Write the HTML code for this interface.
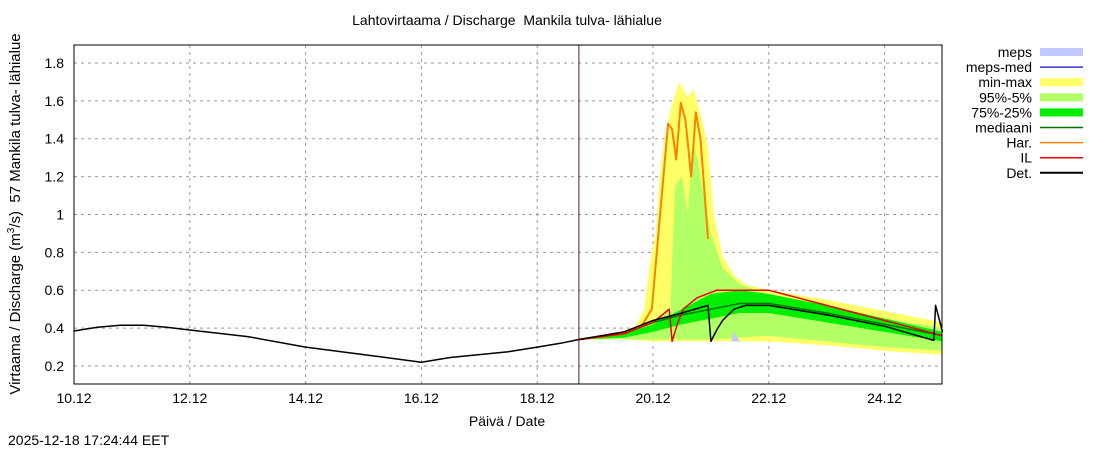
<!DOCTYPE html>
<html><head><meta charset="utf-8"><style>
body{margin:0;background:#fff;width:1100px;height:450px;overflow:hidden}
svg{font-family:"Liberation Sans",sans-serif;font-size:14px}
</style></head><body>
<svg id="c" width="1100" height="450"></svg>
<script>
const yTicks=[0.2,0.4,0.6,0.8,1,1.2,1.4,1.6,1.8];
const yTickLabels=["0.2","0.4","0.6","0.8","1","1.2","1.4","1.6","1.8"];
const xTicks=[0,2,4,6,8,10,12,14];
const xTickLabels=["10.12","12.12","14.12","16.12","18.12","20.12","22.12","24.12"];
const nowDay=8.72;
const detHist=[[0,0.385],[0.4,0.405],[0.8,0.415],[1.2,0.415],[1.6,0.405],[2,0.39],[3,0.355],[4,0.3],[5,0.26],[6,0.22],[6.5,0.245],[7,0.26],[7.5,0.275],[8,0.3],[8.4,0.32],[8.72,0.34]];
const minmaxUp=[[8.72,0.34],[9.4,0.37],[9.7,0.41],[9.85,0.5],[9.95,0.75],[10.05,0.9],[10.12,1.2],[10.2,1.4],[10.3,1.55],[10.45,1.7],[10.6,1.62],[10.7,1.66],[10.85,1.5],[10.95,1.35],[11.05,1.0],[11.2,0.78],[11.4,0.68],[11.6,0.63],[12,0.6],[13,0.55],[14,0.49],[15,0.43]];
const minmaxLo=[[8.72,0.34],[9.5,0.34],[10,0.33],[11,0.33],[12,0.33],[13,0.31],[14,0.28],[15,0.26]];
const p95Up=[[8.72,0.34],[9.5,0.37],[9.9,0.42],[10.3,0.5],[10.38,1.15],[10.5,1.2],[10.6,1.0],[10.7,1.4],[10.85,1.15],[11.0,0.9],[11.2,0.72],[11.5,0.63],[12,0.58],[13,0.52],[14,0.45],[15,0.4]];
const p5Lo=[[8.72,0.34],[9.5,0.34],[10,0.34],[11,0.34],[12,0.36],[13,0.33],[14,0.3],[15,0.28]];
const p75Up=[[8.72,0.34],[9.5,0.37],[10,0.42],[10.5,0.5],[11,0.58],[11.5,0.6],[12,0.58],[13,0.52],[14,0.45],[15,0.38]];
const p25Lo=[[8.72,0.34],[9.5,0.35],[10,0.38],[10.5,0.42],[11,0.45],[11.5,0.48],[12,0.48],[13,0.43],[14,0.38],[15,0.33]];
const mepsUp=[[11.35,0.33],[11.4,0.38],[11.5,0.33]];
const mepsLo=[[11.35,0.33],[11.4,0.33],[11.5,0.33]];
const median=[[8.72,0.34],[9.5,0.37],[10,0.43],[10.5,0.47],[11,0.5],[11.5,0.53],[12,0.53],[13,0.48],[14,0.42],[15,0.36]];
const har=[[8.72,0.34],[9.5,0.37],[9.8,0.41],[9.98,0.5],[10.26,1.48],[10.33,1.45],[10.4,1.29],[10.48,1.59],[10.56,1.5],[10.66,1.2],[10.74,1.54],[10.82,1.4],[10.95,0.87]];
const il=[[8.72,0.34],[9.5,0.37],[10,0.43],[10.28,0.5],[10.33,0.33],[10.42,0.42],[10.52,0.5],[10.76,0.56],[11.1,0.6],[12,0.6],[13,0.52],[14,0.44],[15,0.36]];
const detFc=[[8.72,0.34],[9.5,0.38],[10,0.44],[10.5,0.48],[10.95,0.52],[11.0,0.33],[11.1,0.39],[11.2,0.44],[11.4,0.5],[11.6,0.52],[12,0.52],[13,0.47],[14,0.41],[14.85,0.335],[14.88,0.52],[15,0.38]];

const X=d=>74+d*57.9, Y=v=>366-(v-0.2)*189.4;
const svg=document.getElementById('c'), NS='http://www.w3.org/2000/svg';
function mk(t,a,p){const e=document.createElementNS(NS,t);for(const k in a)e.setAttribute(k,a[k]);(p||svg).appendChild(e);return e;}
const pts=a=>a.map(p=>X(p[0]).toFixed(1)+','+Y(p[1]).toFixed(1)).join(' ');
yTicks.forEach((v,i)=>{
 const g=mk('line',{x1:74,x2:942,y1:Y(v),y2:Y(v),stroke:'#999','stroke-dasharray':'3,4'});
 
 const t=mk('text',{x:64,y:Y(v)+5,'text-anchor':'end'});t.textContent=yTickLabels[i];
 
});
xTicks.forEach((d,i)=>{
 const g=mk('line',{x1:X(d),x2:X(d),y1:45,y2:384,stroke:'#999','stroke-dasharray':'3,4'});
 
 const t=mk('text',{x:X(d),y:403,'text-anchor':'middle'});t.textContent=xTickLabels[i];
 
});
function band(up,lo,col,name){const e=mk('polygon',{points:pts(up)+' '+pts(lo.slice().reverse()),fill:col});
 }
function line(a,col,w,name){const e=mk('polyline',{points:pts(a),fill:'none',stroke:col,'stroke-width':w,'stroke-linejoin':'round'});
 }
band(minmaxUp,minmaxLo,'#ffff66','min-max-band');
band(p95Up,p5Lo,'#b3ff66','p95-p5-band');
band(p75Up,p25Lo,'#00ee00','p75-p25-band');
band(mepsUp,mepsLo,'#c0c8ff','meps-band');
line(median,'#007700',1.5,'median-line');
line(har,'#ff8000',2,'har-line');
line(il,'#ee0000',1.5,'il-line');
line(detHist,'#000',1.5,'observed-line');
line(detFc,'#000',1.5,'det-line');
const nl=mk('line',{x1:X(nowDay),x2:X(nowDay),y1:45,y2:384,stroke:'#552222','stroke-width':1});

const fr=mk('rect',{x:74,y:45,width:868,height:339,fill:'none',stroke:'#000'});

const leg=[['meps','band','#c0c8ff'],['meps-med','line','#3333cc'],['min-max','band','#ffff66'],['95%-5%','band','#b3ff66'],['75%-25%','band','#00ee00'],['mediaani','line','#007700'],['Har.','line','#ff8000'],['IL','line','#ee0000'],['Det.','line','#000']];
leg.forEach((l,i)=>{const y=52+i*15.1;
 const t=mk('text',{x:1032,y:y+5,'text-anchor':'end'});t.textContent=l[0];
 
 const s=l[1]=='band'?mk('rect',{x:1040,y:y-4,width:43,height:8,fill:l[2]}):mk('line',{x1:1040,x2:1083,y1:y,y2:y,stroke:l[2],'stroke-width':l[0]=='Det.'?2:1.5});
 
});
</script>
<div style="position:absolute;left:0;top:0;width:1100px;font-family:'Liberation Sans',sans-serif;font-size:14px">
<div style="position:absolute;left:0;width:1014px;top:12px;text-align:center">Lahtovirtaama / Discharge&nbsp; Mankila tulva- lähialue</div>
<div style="position:absolute;left:0;width:1014px;top:413px;text-align:center">Päivä / Date</div>
<div style="position:absolute;left:8px;top:432px">2025-12-18 17:24:44 EET</div>
<div style="position:absolute;left:15px;top:214px;width:400px;margin-left:-200px;margin-top:-9px;text-align:center;transform:rotate(-90deg);white-space:nowrap;font-size:15px">Virtaama / Discharge (m<sup style="font-size:10px">3</sup>/s)&nbsp; 57 Mankila tulva- lähialue</div>
</div>
</body></html>
